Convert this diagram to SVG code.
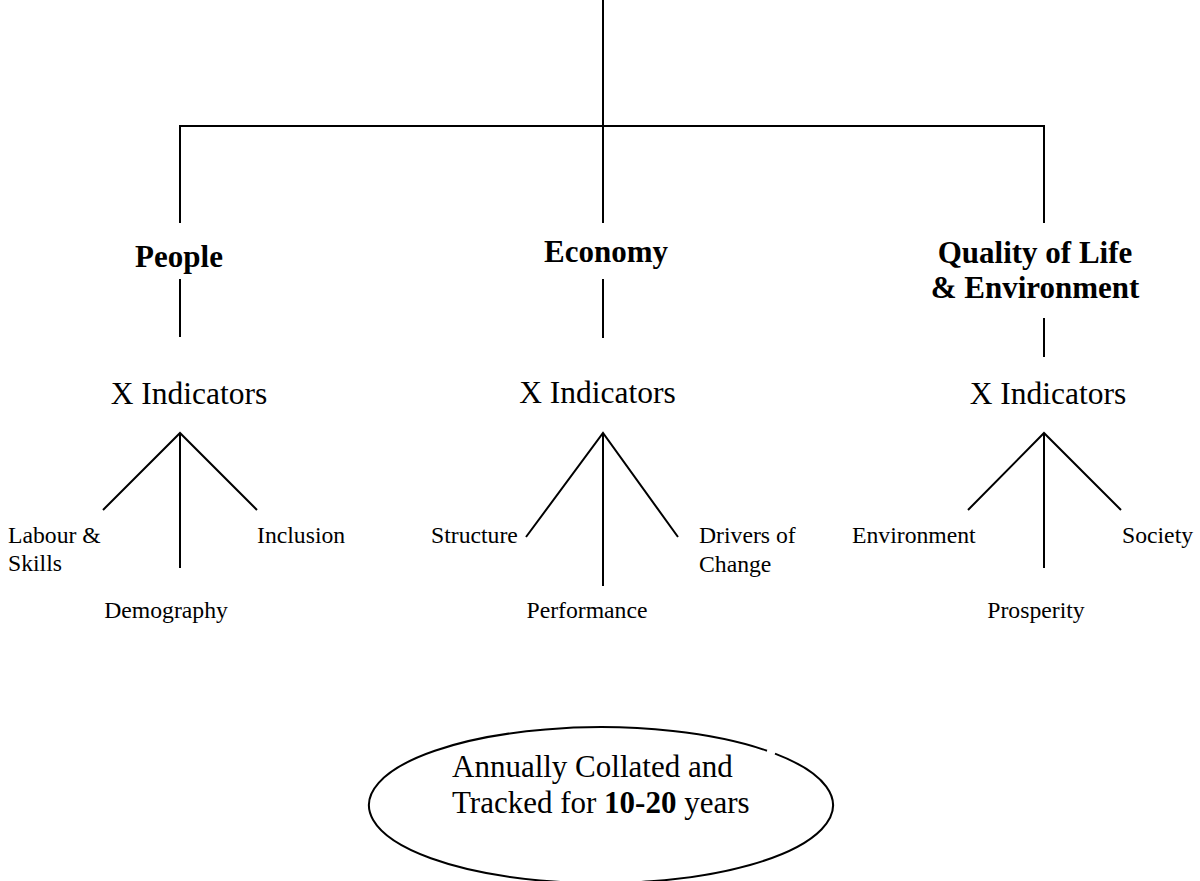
<svg xmlns="http://www.w3.org/2000/svg" width="1200" height="881" viewBox="0 0 1200 881">
  <style>
    .ln { stroke: #000; stroke-width: 2; fill: none; stroke-linecap: butt; }
    text { font-family: "Liberation Serif", "Times New Roman", serif; fill: #000; }
    .head { font-size: 31px; font-weight: bold; text-anchor: middle; }
    .ind { font-size: 31.5px; text-anchor: middle; }
    .sub { font-size: 23.7px; }
    .mid { text-anchor: middle; }
    .note { font-size: 31px; }
  </style>
  <rect width="1200" height="881" fill="#fff"/>

  <!-- connectors -->
  <g id="connectors">
    <!-- trunk and top bar -->
    <path class="ln" d="M603,0 V223"/>
    <path class="ln" d="M180,223 V126 H1044 V223"/>
    <!-- heading to indicator links -->
    <path class="ln" d="M180,279 V337"/>
    <path class="ln" d="M603,279 V338"/>
    <path class="ln" d="M1044,318 V357"/>
    <!-- People fan -->
    <path class="ln" d="M103,510 L180,433 L257,510 M180,433 V568"/>
    <!-- Economy fan -->
    <path class="ln" d="M526,537 L603,433 L678,537 M603,433 V586"/>
    <!-- Quality of Life fan -->
    <path class="ln" d="M968,510 L1044,433 L1121,510 M1044,433 V568"/>
  </g>

  <!-- People branch -->
  <g id="people">
    <text class="head" x="179" y="267">People</text>
  </g>
  <g id="people-indicators">
    <text class="ind" x="189" y="404">X Indicators</text>
  </g>
  <g id="labour-skills">
    <text class="sub" x="8" y="543">Labour &amp;</text>
    <text class="sub" x="8" y="571">Skills</text>
  </g>
  <g id="demography">
    <text class="sub mid" x="166" y="618">Demography</text>
  </g>
  <g id="inclusion">
    <text class="sub" x="257" y="543">Inclusion</text>
  </g>

  <!-- Economy branch -->
  <g id="economy">
    <text class="head" x="606" y="262">Economy</text>
  </g>
  <g id="economy-indicators">
    <text class="ind" x="597.5" y="403">X Indicators</text>
  </g>
  <g id="structure">
    <text class="sub" x="431" y="543">Structure</text>
  </g>
  <g id="performance">
    <text class="sub mid" x="587" y="618">Performance</text>
  </g>
  <g id="drivers-of-change">
    <text class="sub" x="699" y="543">Drivers of</text>
    <text class="sub" x="699" y="572">Change</text>
  </g>

  <!-- Quality of Life branch -->
  <g id="quality-of-life">
    <text class="head" x="1035" y="263">Quality of Life</text>
    <text class="head" x="1035" y="298">&amp; Environment</text>
  </g>
  <g id="qol-indicators">
    <text class="ind" x="1048" y="404">X Indicators</text>
  </g>
  <g id="environment">
    <text class="sub" x="852" y="543">Environment</text>
  </g>
  <g id="prosperity">
    <text class="sub mid" x="1036" y="618">Prosperity</text>
  </g>
  <g id="society">
    <text class="sub" x="1122" y="543">Society</text>
  </g>

  <!-- tracking note: outline is open with a short break near the upper right -->
  <g id="tracking">
    <path class="ln" d="M767,750.7 A232,78 0 1 0 775,753.6"/>
    <text class="note" x="452" y="777">Annually Collated and</text>
    <text class="note" x="452" y="813">Tracked for <tspan font-weight="bold">10-20</tspan> years</text>
  </g>
</svg>
